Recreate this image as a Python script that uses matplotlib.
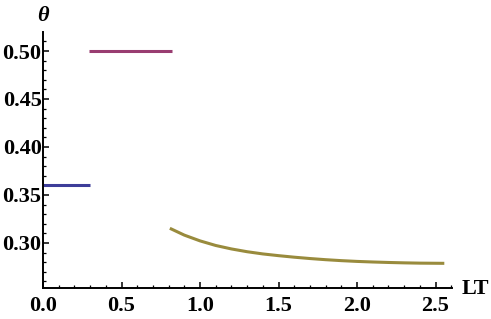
import matplotlib
matplotlib.use("Agg")
import matplotlib.pyplot as plt
from matplotlib.ticker import MultipleLocator, FixedLocator

# Data
blue_x = [0.0, 0.30]
blue_y = [0.3605, 0.3605]
purple_x = [0.29, 0.82]
purple_y = [0.50, 0.50]
gold_x = [0.808, 0.9, 1.0, 1.1, 1.2, 1.3, 1.4, 1.5, 1.6, 1.7, 1.8, 1.9, 2.0, 2.1, 2.2, 2.3, 2.4, 2.556]
gold_y = [0.3153, 0.3082, 0.3022, 0.2974, 0.2938, 0.2909, 0.2886, 0.2868, 0.2852, 0.2838, 0.2826,
          0.2816, 0.2808, 0.2802, 0.2797, 0.2793, 0.2790, 0.2788]

xticks = [0.0, 0.5, 1.0, 1.5, 2.0, 2.5]
xticklabels = ["0.0", "0.5", "1.0", "1.5", "2.0", "2.5"]
yticks = [0.30, 0.35, 0.40, 0.45, 0.50]
yticklabels = ["0.30", "0.35", "0.40", "0.45", "0.50"]

plt.rcParams['font.family'] = ['Liberation Serif', 'DejaVu Serif']

fig = plt.figure(figsize=(4.91, 3.19), dpi=100)
ax = fig.add_axes([43/491, (319-288)/319, (452-43)/491, (288-32)/319])

ax.plot(blue_x, blue_y, color="#3d3d99", lw=2.2, solid_capstyle="butt")
ax.plot(purple_x, purple_y, color="#993d71", lw=2.2, solid_capstyle="butt")
ax.plot(gold_x, gold_y, color="#998b3d", lw=2.2, solid_capstyle="butt")

ax.set_xlim(0, 2.605)
ax.set_ylim(0.2531, 0.5198)

for s in ["top", "right"]:
    ax.spines[s].set_visible(False)
for s in ["left", "bottom"]:
    ax.spines[s].set_linewidth(1.4)

ax.xaxis.set_major_locator(FixedLocator(xticks))
ax.set_xticklabels(xticklabels)
ax.yaxis.set_major_locator(FixedLocator(yticks))
ax.set_yticklabels(yticklabels)
ax.xaxis.set_minor_locator(MultipleLocator(0.1))
ax.yaxis.set_minor_locator(MultipleLocator(0.01))

ax.tick_params(which="major", direction="in", length=4.5, width=1.1)
ax.tick_params(which="minor", direction="in", length=2.2, width=0.9)
ax.tick_params(axis="both", which="major", labelsize=16)
ax.tick_params(axis="x", which="major", pad=6)
ax.tick_params(axis="y", which="major", pad=1)
for lab in ax.get_xticklabels() + ax.get_yticklabels():
    lab.set_fontweight("bold")

fig.text(43/491, 1 - 16/319, "θ", ha="center", va="center", fontsize=16,
         fontweight="bold", fontstyle="italic")
fig.text(475/491, 1 - 289/319, "LT", ha="center", va="center", fontsize=16, fontweight="bold")

fig.savefig("out.png", dpi=100)
